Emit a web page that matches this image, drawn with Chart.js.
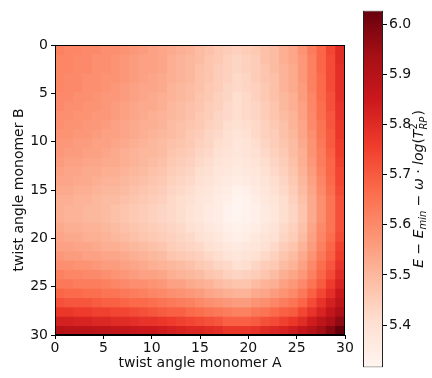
<!DOCTYPE html>
<html>
<head>
<meta charset="utf-8">
<script src="https://cdn.jsdelivr.net/npm/chart.js@4.4.1/dist/chart.umd.min.js"></script>
<style>
  html, body { margin: 0; padding: 0; background: #fff; }
  #wrap { position: relative; width: 432px; height: 378px; }
  #heat { position: absolute; left: 0; top: 0; }
  #cbar { position: absolute; left: 350px; top: 0; }
</style>
</head>
<body>
<div id="wrap">
  <canvas id="heat" width="360" height="378"></canvas>
  <canvas id="cbar" width="82" height="378"></canvas>
</div>
<script>
// twist angles of the two monomers (one cell per angle)
const anglesA = [0,1,2,3,4,5,6,7,8,9,10,11,12,13,14,15,16,17,18,19,20,21,22,23,24,25,26,27,28,29,30];
const anglesB = [0,1,2,3,4,5,6,7,8,9,10,11,12,13,14,15,16,17,18,19,20,21,22,23,24,25,26,27,28,29,30];
const xTicks = [0,5,10,15,20,25,30];
const yTicks = [0,5,10,15,20,25,30];
const cbarTicks = [5.4,5.5,5.6,5.7,5.8,5.9,6.0];
const vMin = 5.315, vMax = 6.028;

// energy[row = angle B][col = angle A]
const energy = [
  [5.62,5.61,5.61,5.60,5.60,5.59,5.59,5.58,5.57,5.56,5.55,5.54,5.53,5.52,5.51,5.49,5.48,5.46,5.45,5.44,5.45,5.46,5.48,5.49,5.52,5.54,5.58,5.63,5.68,5.74,5.80],
  [5.61,5.61,5.60,5.60,5.59,5.59,5.58,5.57,5.56,5.55,5.55,5.54,5.52,5.51,5.50,5.49,5.47,5.46,5.44,5.43,5.44,5.45,5.48,5.49,5.52,5.54,5.57,5.62,5.68,5.73,5.80],
  [5.61,5.61,5.60,5.60,5.59,5.59,5.58,5.57,5.56,5.55,5.55,5.54,5.52,5.51,5.50,5.48,5.47,5.45,5.44,5.43,5.44,5.45,5.47,5.49,5.51,5.53,5.57,5.62,5.68,5.73,5.79],
  [5.61,5.60,5.60,5.59,5.59,5.58,5.58,5.57,5.56,5.55,5.54,5.53,5.52,5.51,5.50,5.48,5.47,5.45,5.44,5.42,5.43,5.45,5.47,5.48,5.51,5.53,5.57,5.62,5.67,5.73,5.79],
  [5.61,5.60,5.60,5.59,5.59,5.58,5.57,5.56,5.55,5.54,5.54,5.53,5.51,5.50,5.49,5.48,5.46,5.45,5.43,5.42,5.43,5.44,5.46,5.48,5.51,5.53,5.56,5.62,5.67,5.73,5.79],
  [5.60,5.60,5.59,5.59,5.58,5.57,5.57,5.56,5.55,5.54,5.53,5.52,5.51,5.50,5.49,5.47,5.46,5.44,5.43,5.41,5.42,5.44,5.46,5.48,5.50,5.52,5.56,5.61,5.67,5.72,5.79],
  [5.60,5.59,5.59,5.58,5.58,5.57,5.56,5.55,5.54,5.53,5.53,5.52,5.50,5.49,5.48,5.47,5.45,5.44,5.42,5.41,5.42,5.43,5.45,5.47,5.50,5.52,5.55,5.61,5.66,5.72,5.78],
  [5.59,5.59,5.58,5.58,5.57,5.57,5.56,5.55,5.54,5.53,5.52,5.51,5.50,5.49,5.48,5.46,5.45,5.43,5.42,5.41,5.42,5.43,5.45,5.47,5.49,5.51,5.55,5.60,5.66,5.71,5.78],
  [5.59,5.58,5.58,5.57,5.57,5.56,5.55,5.54,5.53,5.52,5.52,5.51,5.49,5.48,5.47,5.46,5.44,5.43,5.41,5.40,5.41,5.42,5.44,5.46,5.48,5.51,5.54,5.60,5.65,5.71,5.77],
  [5.58,5.58,5.57,5.57,5.56,5.55,5.55,5.54,5.53,5.52,5.51,5.50,5.49,5.48,5.46,5.45,5.43,5.42,5.40,5.39,5.40,5.42,5.44,5.45,5.48,5.50,5.54,5.59,5.65,5.70,5.77],
  [5.57,5.57,5.56,5.56,5.55,5.55,5.54,5.53,5.52,5.51,5.50,5.49,5.48,5.47,5.46,5.44,5.43,5.41,5.40,5.38,5.39,5.41,5.43,5.45,5.47,5.49,5.53,5.58,5.64,5.70,5.76],
  [5.57,5.56,5.56,5.55,5.55,5.54,5.53,5.52,5.51,5.50,5.50,5.49,5.47,5.46,5.45,5.43,5.42,5.40,5.39,5.38,5.39,5.40,5.42,5.44,5.46,5.49,5.52,5.58,5.63,5.69,5.76],
  [5.56,5.55,5.55,5.54,5.54,5.53,5.53,5.52,5.51,5.50,5.49,5.48,5.46,5.45,5.44,5.42,5.41,5.39,5.38,5.37,5.38,5.39,5.41,5.43,5.45,5.48,5.52,5.57,5.63,5.68,5.75],
  [5.55,5.54,5.54,5.53,5.53,5.52,5.52,5.51,5.50,5.49,5.48,5.47,5.45,5.44,5.43,5.41,5.40,5.38,5.37,5.36,5.37,5.38,5.40,5.42,5.44,5.47,5.51,5.56,5.62,5.68,5.74],
  [5.54,5.54,5.53,5.53,5.52,5.51,5.51,5.50,5.49,5.48,5.47,5.46,5.44,5.43,5.42,5.40,5.39,5.37,5.36,5.35,5.36,5.37,5.39,5.41,5.43,5.46,5.50,5.55,5.61,5.67,5.74],
  [5.53,5.53,5.52,5.52,5.51,5.50,5.50,5.49,5.48,5.47,5.46,5.45,5.43,5.42,5.41,5.39,5.38,5.36,5.35,5.33,5.34,5.36,5.38,5.40,5.42,5.45,5.49,5.54,5.60,5.66,5.73],
  [5.52,5.52,5.51,5.51,5.50,5.49,5.49,5.48,5.47,5.46,5.45,5.44,5.42,5.41,5.40,5.38,5.37,5.35,5.34,5.32,5.33,5.35,5.37,5.39,5.41,5.44,5.48,5.53,5.59,5.65,5.72],
  [5.52,5.51,5.51,5.50,5.50,5.49,5.48,5.47,5.46,5.45,5.44,5.43,5.42,5.41,5.39,5.38,5.36,5.35,5.33,5.31,5.33,5.34,5.36,5.38,5.41,5.43,5.47,5.53,5.59,5.65,5.72],
  [5.52,5.51,5.51,5.50,5.50,5.49,5.48,5.47,5.46,5.45,5.44,5.43,5.42,5.41,5.39,5.38,5.36,5.35,5.33,5.32,5.33,5.34,5.36,5.38,5.41,5.43,5.47,5.53,5.59,5.65,5.72],
  [5.53,5.52,5.52,5.51,5.51,5.50,5.49,5.48,5.47,5.46,5.45,5.44,5.43,5.42,5.40,5.39,5.37,5.36,5.34,5.33,5.34,5.35,5.37,5.39,5.42,5.44,5.48,5.54,5.60,5.65,5.72],
  [5.54,5.53,5.53,5.52,5.52,5.51,5.50,5.49,5.48,5.47,5.46,5.45,5.44,5.43,5.42,5.40,5.39,5.37,5.35,5.34,5.35,5.37,5.39,5.40,5.43,5.45,5.49,5.55,5.61,5.66,5.73],
  [5.55,5.55,5.54,5.54,5.53,5.52,5.52,5.51,5.50,5.49,5.48,5.47,5.45,5.44,5.43,5.42,5.40,5.39,5.37,5.36,5.37,5.38,5.40,5.42,5.45,5.47,5.51,5.56,5.62,5.68,5.75],
  [5.57,5.56,5.56,5.55,5.55,5.54,5.54,5.53,5.52,5.51,5.50,5.49,5.47,5.46,5.45,5.44,5.42,5.41,5.39,5.38,5.39,5.40,5.42,5.44,5.47,5.49,5.53,5.58,5.64,5.69,5.76],
  [5.59,5.59,5.58,5.58,5.57,5.56,5.56,5.55,5.54,5.53,5.52,5.51,5.50,5.49,5.48,5.46,5.45,5.43,5.42,5.40,5.41,5.43,5.45,5.46,5.49,5.51,5.55,5.60,5.66,5.71,5.78],
  [5.62,5.61,5.61,5.60,5.60,5.59,5.58,5.57,5.56,5.55,5.55,5.54,5.52,5.51,5.50,5.49,5.47,5.46,5.44,5.43,5.44,5.45,5.47,5.49,5.52,5.54,5.57,5.62,5.68,5.73,5.80],
  [5.64,5.64,5.63,5.63,5.63,5.62,5.61,5.60,5.59,5.59,5.58,5.57,5.55,5.55,5.53,5.52,5.51,5.49,5.48,5.47,5.47,5.49,5.51,5.52,5.55,5.57,5.60,5.65,5.70,5.76,5.82],
  [5.68,5.67,5.67,5.66,5.66,5.65,5.65,5.64,5.63,5.62,5.61,5.60,5.59,5.58,5.57,5.56,5.54,5.53,5.52,5.51,5.51,5.53,5.54,5.56,5.58,5.60,5.64,5.69,5.74,5.79,5.85],
  [5.72,5.71,5.71,5.71,5.70,5.69,5.69,5.68,5.67,5.67,5.66,5.65,5.64,5.63,5.62,5.60,5.59,5.58,5.57,5.56,5.56,5.58,5.59,5.61,5.63,5.65,5.68,5.73,5.78,5.83,5.88],
  [5.77,5.77,5.76,5.76,5.75,5.75,5.74,5.74,5.73,5.72,5.71,5.70,5.69,5.69,5.67,5.66,5.65,5.64,5.63,5.62,5.62,5.64,5.65,5.67,5.69,5.70,5.74,5.78,5.82,5.87,5.92],
  [5.83,5.83,5.82,5.82,5.81,5.81,5.80,5.80,5.79,5.78,5.78,5.77,5.76,5.75,5.74,5.73,5.72,5.71,5.69,5.69,5.69,5.70,5.72,5.73,5.75,5.77,5.80,5.84,5.88,5.92,5.97],
  [5.90,5.89,5.89,5.89,5.88,5.88,5.87,5.87,5.86,5.85,5.85,5.84,5.83,5.82,5.81,5.81,5.80,5.79,5.77,5.77,5.77,5.78,5.80,5.81,5.82,5.84,5.87,5.90,5.94,5.98,6.03]
];

// matplotlib "Reds"
const reds = ['#fff5f0','#fee0d2','#fcbba1','#fc9272','#fb6a4a','#ef3b2c','#cb181d','#a50f15','#67000d'];

function hexToRgb(h) {
  return [parseInt(h.slice(1,3),16), parseInt(h.slice(3,5),16), parseInt(h.slice(5,7),16)];
}
const redsRgb = reds.map(hexToRgb);

function redsColor(v) {
  let t = (v - vMin) / (vMax - vMin);
  t = Math.max(0, Math.min(1, t));
  const s = t * (redsRgb.length - 1);
  const i = Math.min(Math.floor(s), redsRgb.length - 2);
  const f = s - i;
  const a = redsRgb[i], b = redsRgb[i + 1];
  const c = a.map((x, k) => Math.round(x + (b[k] - x) * f));
  return 'rgb(' + c.join(',') + ')';
}

const FONT = 'DejaVu Sans';
const TXT = '#111';

const spanA = anglesA[anglesA.length - 1] - anglesA[0];
const spanB = anglesB[anglesB.length - 1] - anglesB[0];
const cellA = spanA / anglesA.length;
const cellB = spanB / anglesB.length;

const datasets = anglesB.map((b, j) => ({
  data: anglesA.map((a, i) => ({ x: (i + 0.5) * cellA, y: [j * cellB, (j + 1) * cellB] })),
  backgroundColor: energy[j].map(redsColor),
  borderWidth: 0,
  grouped: false,
  barPercentage: 1,
  categoryPercentage: 1,
  inflateAmount: 0.4
}));

const frame = {
  id: 'frame',
  afterDatasetsDraw(chart) {
    const { ctx, chartArea: a } = chart;
    ctx.save();
    ctx.strokeStyle = '#000';
    ctx.lineWidth = 1;
    ctx.strokeRect(Math.round(a.left) + 0.5, Math.round(a.top) + 0.5, Math.round(a.right - a.left) - 1, Math.round(a.bottom - a.top) - 1);
    ctx.restore();
  }
};

new Chart(document.getElementById('heat'), {
  type: 'bar',
  data: { datasets },
  options: {
    responsive: false,
    animation: false,
    events: [],
    layout: { padding: { left: 0, right: 15, top: 45, bottom: 0 } },
    plugins: { legend: { display: false }, tooltip: { enabled: false } },
    scales: {
      x: {
        type: 'linear', min: 0, max: spanA, offset: false,
        afterBuildTicks: s => { s.ticks = xTicks.map(v => ({ value: v })); },
        afterFit: s => { s.height = 43; },
        grid: { offset: false, drawOnChartArea: false, drawTicks: true, tickLength: 4, color: '#000' },
        border: { display: true, color: '#000' },
        ticks: { color: TXT, font: { family: FONT, size: 14 }, padding: 1, maxRotation: 0, autoSkip: false },
        title: { display: true, text: 'twist angle monomer A', color: TXT, font: { family: FONT, size: 14 }, padding: { top: 0, bottom: 6 } }
      },
      y: {
        type: 'linear', reverse: true, min: 0, max: spanB,
        afterBuildTicks: s => { s.ticks = yTicks.map(v => ({ value: v })); },
        afterFit: s => { s.width = 55; },
        grid: { offset: false, drawOnChartArea: false, drawTicks: true, tickLength: 4, color: '#000' },
        border: { display: true, color: '#000' },
        ticks: { color: TXT, font: { family: FONT, size: 14 }, padding: 3, autoSkip: false },
        title: { display: true, text: 'twist angle monomer B', color: TXT, font: { family: FONT, size: 14 }, padding: { top: 11, bottom: 0 } }
      }
    }
  },
  plugins: [frame]
});

// colorbar label with sub/superscripts
const cbarTitle = {
  id: 'cbarTitle',
  afterDraw(chart) {
    const { ctx, chartArea: a } = chart;
    const big = 14, small = 10;
    const it = s => 'italic ' + s + 'px ' + FONT;
    const rm = s => s + 'px ' + FONT;
    const parts = [
      { t: 'E', f: it(big), dy: 0 },
      { t: ' \u2212 ', f: rm(big), dy: 0 },
      { t: 'E', f: it(big), dy: 0 },
      { t: 'min', f: it(small), dy: 3 },
      { t: ' \u2212 ', f: rm(big), dy: 0 },
      { t: '\u03c9', f: it(big), dy: 0 },
      { t: ' \u00b7 ', f: rm(big), dy: 0 },
      { t: 'log', f: it(big), dy: 0 },
      { t: '(', f: rm(big), dy: 0 },
      { t: 'T', f: it(big), dy: 0 },
      { stack: [{ t: '2', f: rm(small), dy: -6 }, { t: 'RP', f: it(small), dy: 4 }] },
      { t: ')', f: rm(big), dy: 0 }
    ];
    ctx.save();
    let total = 0;
    const widths = parts.map(p => {
      if (p.stack) {
        const w = Math.max(...p.stack.map(q => { ctx.font = q.f; return ctx.measureText(q.t).width; }));
        total += w + 1;
        return w + 1;
      }
      ctx.font = p.f;
      const w = ctx.measureText(p.t).width;
      total += w;
      return w;
    });
    ctx.translate(73, (a.top + a.bottom) / 2);
    ctx.rotate(-Math.PI / 2);
    ctx.fillStyle = TXT;
    ctx.textBaseline = 'alphabetic';
    ctx.textAlign = 'left';
    let x = -total / 2;
    parts.forEach((p, k) => {
      const list = p.stack ? p.stack : [p];
      list.forEach(q => { ctx.font = q.f; ctx.fillText(q.t, x, q.dy); });
      x += widths[k];
    });
    ctx.restore();
  }
};

new Chart(document.getElementById('cbar'), {
  type: 'bar',
  data: {
    labels: [''],
    datasets: [{
      data: [[vMin, vMax]],
      backgroundColor: c => {
        const ch = c.chart;
        const ys = ch.scales && ch.scales.y;
        if (!ys || !ch.chartArea) return reds[4];
        const g = ch.ctx.createLinearGradient(0, ys.getPixelForValue(vMin), 0, ys.getPixelForValue(vMax));
        reds.forEach((col, i) => g.addColorStop(i / (reds.length - 1), col));
        return g;
      },
      borderColor: '#222',
      borderWidth: 1,
      borderSkipped: false,
      barPercentage: 1,
      categoryPercentage: 1,
      inflateAmount: 0
    }]
  },
  options: {
    responsive: false,
    animation: false,
    events: [],
    layout: { padding: { left: 13, right: 0, top: 10, bottom: 8 } },
    plugins: { legend: { display: false }, tooltip: { enabled: false } },
    scales: {
      x: { display: false },
      y: {
        position: 'right', min: vMin, max: vMax,
        afterBuildTicks: s => { s.ticks = cbarTicks.map(v => ({ value: v })); },
        afterFit: s => { s.width = 49; },
        grid: { drawOnChartArea: false, drawTicks: true, tickLength: 4, color: '#000' },
        border: { display: false },
        ticks: { color: TXT, font: { family: FONT, size: 14 }, padding: 2, callback: v => v.toFixed(1) }
      }
    }
  },
  plugins: [cbarTitle]
});
</script>
</body>
</html>
